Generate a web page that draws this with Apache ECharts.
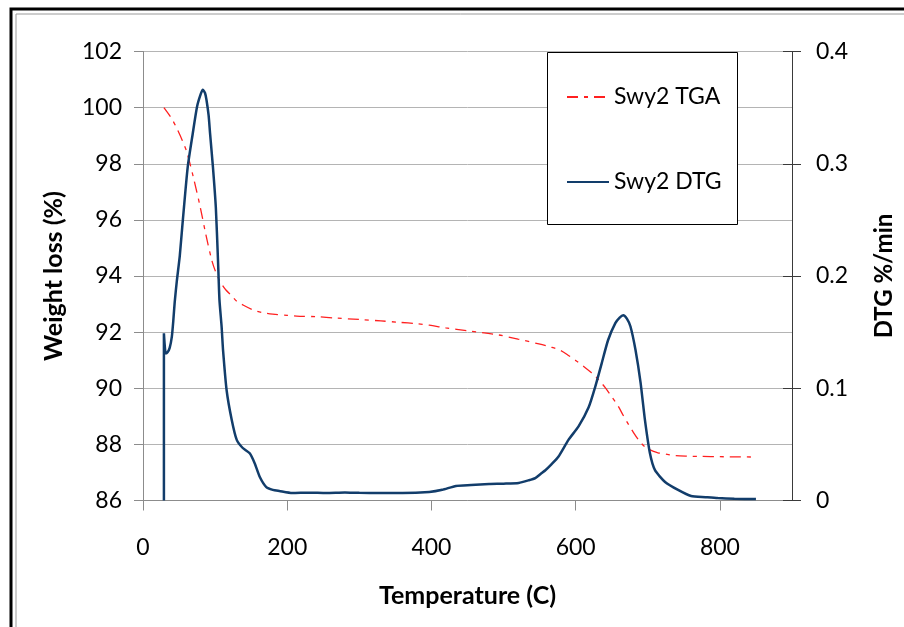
<!DOCTYPE html>
<html>
<head>
<meta charset="utf-8">
<script src="https://cdn.jsdelivr.net/npm/echarts@6/dist/echarts.min.js"></script>
<style>
html,body{margin:0;padding:0;background:#fff;}
#main{width:904px;height:627px;}
</style>
</head>
<body>
<div id="main"></div>
<script>
// TGA curve: temperature (C) / weight (%)
var tgaTemp = [29, 40, 48, 55, 61, 70, 79, 87, 95, 100, 107, 115, 123, 130, 140, 152, 165, 180, 200, 213, 240, 268, 300, 330, 355, 380, 397, 420, 450, 493, 520, 549, 565, 579, 590, 601, 612, 622, 632, 641, 650, 659, 666, 673, 680, 687, 694, 701, 708, 714, 725, 738, 755, 774, 800, 843];
var tgaWeight = [100.0, 99.6, 99.2, 98.8, 98.4, 97.5, 96.5, 95.5, 94.6, 94.2, 93.8, 93.5, 93.3, 93.1, 92.95, 92.8, 92.7, 92.64, 92.6, 92.57, 92.55, 92.5, 92.45, 92.4, 92.35, 92.3, 92.25, 92.15, 92.05, 91.9, 91.75, 91.58, 91.47, 91.35, 91.17, 90.97, 90.76, 90.55, 90.3, 90.02, 89.7, 89.36, 89.03, 88.72, 88.43, 88.17, 87.96, 87.83, 87.75, 87.7, 87.65, 87.6, 87.58, 87.57, 87.56, 87.55];

// DTG curve: temperature (C) / rate (%/min)
var dtgTemp = [29, 29, 31.5, 34, 37, 40, 42, 44, 47, 51, 55, 62, 69, 75, 80, 83, 86, 88, 91, 93, 97, 101, 104, 106, 109, 111, 116, 123, 130, 138, 148, 155, 162, 171, 180, 189, 207, 230, 254, 280, 300, 328, 360, 397, 415, 434, 455, 480, 500, 521, 535, 544, 552, 558, 566, 576, 590, 604, 618, 627, 636, 645, 655, 661, 666, 671, 676, 683, 690, 696, 703, 710, 724, 742, 760, 780, 797, 820, 850];
var dtgRate = [0, 0.149, 0.131, 0.132, 0.136, 0.146, 0.160, 0.177, 0.196, 0.218, 0.248, 0.297, 0.327, 0.351, 0.362, 0.366, 0.363, 0.357, 0.343, 0.327, 0.297, 0.261, 0.214, 0.179, 0.155, 0.134, 0.098, 0.072, 0.054, 0.047, 0.042, 0.033, 0.021, 0.012, 0.0095, 0.0085, 0.0067, 0.007, 0.0067, 0.0072, 0.0068, 0.0067, 0.0066, 0.0076, 0.0095, 0.013, 0.0138, 0.0147, 0.015, 0.0156, 0.018, 0.02, 0.024, 0.027, 0.032, 0.039, 0.054, 0.066, 0.083, 0.101, 0.122, 0.143, 0.158, 0.163, 0.165, 0.162, 0.155, 0.134, 0.105, 0.072, 0.042, 0.027, 0.0165, 0.0094, 0.004, 0.003, 0.0022, 0.0016, 0.0013];

var xTicks = [0, 200, 400, 600, 800];

function pairs(xs, ys){
	var out = [];
	for (var i = 0; i < xs.length; i++) out.push([xs[i], ys[i]]);
	return out;
}

var FONT = 'Lato';
var chart = echarts.init(document.getElementById('main'));

var option = {
	backgroundColor: '#fff',
	animation: false,
	textStyle: {fontFamily: FONT},
	grid: {left: 143, right: 111, top: 51.5, bottom: 126.5},
	graphic: [
		{type: 'rect', shape: {x: 11, y: 9, width: 1000, height: 1000}, style: {fill: 'none', stroke: '#000', lineWidth: 3}, z: 1},
		{type: 'rect', shape: {x: 16, y: 14, width: 1000, height: 1000}, style: {fill: 'none', stroke: '#9a9a9a', lineWidth: 1}, z: 1},
		{type: 'rect', shape: {x: 547.5, y: 52.5, width: 190, height: 172}, style: {fill: '#fff', stroke: '#000', lineWidth: 1}, z: 3}
	],
	legend: {
		orient: 'vertical',
		left: 566, top: 84,
		padding: 0,
		itemWidth: 42, itemHeight: 14,
		itemGap: 59,
		itemTextGap: 4,
		z: 10,
		itemStyle: {opacity: 0},
		textStyle: {fontFamily: FONT, fontSize: 23, color: '#000', lineHeight: 26},
		data: ['Swy2 TGA', 'Swy2 DTG']
	},
	xAxis: {
		type: 'value',
		min: 0, max: 900, interval: 200,
		name: 'Temperature (C)',
		nameLocation: 'middle',
		nameGap: 83,
		nameTextStyle: {fontFamily: FONT, fontSize: 25, fontWeight: 'bold', color: '#000'},
		axisLine: {lineStyle: {color: '#8c8c8c', width: 1}},
		axisTick: {length: 10, lineStyle: {color: '#8c8c8c'}, customValues: xTicks},
		axisLabel: {margin: 36, fontSize: 23, color: '#000', fontFamily: FONT, customValues: xTicks},
		splitLine: {show: false}
	},
	yAxis: [
		{
			type: 'value', position: 'left',
			min: 86, max: 102, interval: 2,
			name: 'Weight loss (%)',
			nameLocation: 'middle',
			nameGap: 77,
			nameRotate: 90,
			nameTextStyle: {fontFamily: FONT, fontSize: 25, fontWeight: 'bold', color: '#000'},
			axisLine: {show: true, lineStyle: {color: '#8c8c8c'}},
			axisTick: {show: true, length: 9, lineStyle: {color: '#8c8c8c'}},
			axisLabel: {margin: 21, fontSize: 23, color: '#000', fontFamily: FONT},
			splitLine: {show: true, lineStyle: {color: '#b4b4b4', width: 1}}
		},
		{
			type: 'value', position: 'right',
			min: 0, max: 0.4, interval: 0.1,
			name: 'DTG %/min',
			nameLocation: 'middle',
			nameGap: 80,
			nameRotate: 90,
			nameTextStyle: {fontFamily: FONT, fontSize: 24, fontWeight: 'bold', color: '#000'},
			axisLine: {show: true, lineStyle: {color: '#3a3a3a'}},
			axisTick: {show: true, length: 9, lineStyle: {color: '#3a3a3a'}},
			axisLabel: {margin: 24, fontSize: 23, color: '#000', fontFamily: FONT},
			splitLine: {show: false}
		},
		{
			// inner half of the crossing ticks on the right axis
			type: 'value', position: 'right',
			min: 0, max: 0.4, interval: 0.1,
			axisLine: {show: false},
			axisTick: {show: true, inside: true, length: 9, lineStyle: {color: '#3a3a3a'}},
			axisLabel: {show: false},
			splitLine: {show: false}
		}
	],
	series: [
		{
			name: 'Swy2 TGA',
			type: 'line',
			yAxisIndex: 0,
			symbol: 'none',
			smooth: 0.3,
			color: '#ff2020',
			lineStyle: {color: '#ff2020', width: 1.3, type: [11, 6, 4, 6]},
			data: pairs(tgaTemp, tgaWeight)
		},
		{
			name: 'Swy2 DTG',
			type: 'line',
			yAxisIndex: 1,
			symbol: 'none',
			smooth: 0.2,
			color: '#123d6b',
			lineStyle: {color: '#123d6b', width: 2.5},
			data: pairs(dtgTemp, dtgRate)
		}
	]
};

chart.setOption(option);
</script>
</body>
</html>
